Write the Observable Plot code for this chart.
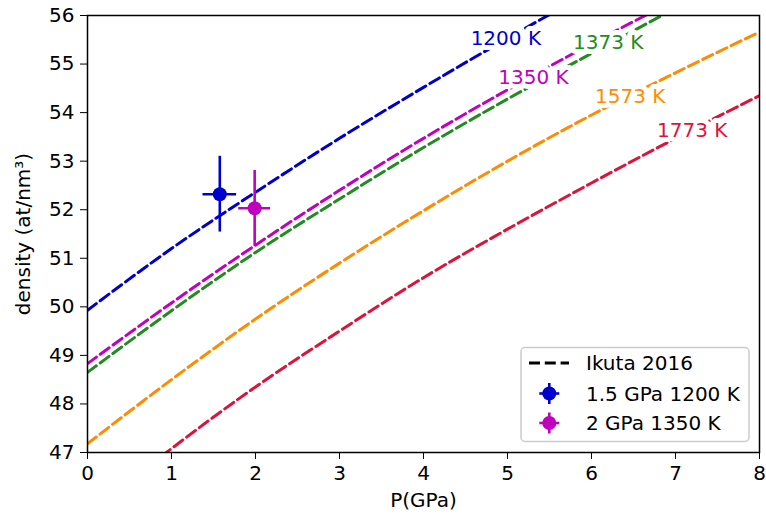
<!DOCTYPE html>
<html><head><meta charset="utf-8">
<script src="https://cdn.jsdelivr.net/npm/d3@7"></script>
<script src="https://cdn.jsdelivr.net/npm/@observablehq/plot@0.6"></script>
<style>
body{margin:0;background:#fff;font-family:"DejaVu Sans",sans-serif}
#chart{position:relative;width:766px;height:520px}
</style>
</head><body><div id="chart"></div>
<script>
// ---- data ----
const pressures = [0, 1, 2, 3, 4, 5, 6, 7, 8];
const temps = ["1200 K", "1350 K", "1373 K", "1573 K", "1773 K"];
const colors = ["#0000cd", "#bf00bf", "#228b22", "#ff8c00", "#dc143c"];
const dens1200 = [49.93, 51.20, 52.36, 53.47, 54.52, 55.53, 56.50, null, null];
const dens1350 = [48.83, 50.08, 51.27, 52.40, 53.47, 54.47, 55.42, 56.32, null];
const dens1373 = [48.65, 49.92, 51.12, 52.22, 53.28, 54.28, 55.22, 56.15, null];
const dens1573 = [47.18, 48.50, 49.75, 50.90, 51.98, 53.00, 53.95, 54.82, 55.66];
const dens1773 = [45.70, 47.08, 48.35, 49.50, 50.60, 51.60, 52.55, 53.47, 54.35];
const labelP = [4.98, 5.31, 6.20, 6.46, 7.20];
const labelD = [55.53, 54.72, 55.44, 54.33, 53.63];

const expNames = ["1.5 GPa 1200 K", "2 GPa 1350 K"];
const expColors = ["#0000cd", "#bf00bf"];
const expP = [1.575, 1.99];
const expD = [52.32, 52.03];
const expPErr = [0.2, 0.19];
const expDErr = [0.78, 0.78];

const xTicks = [0, 1, 2, 3, 4, 5, 6, 7, 8];
const yTicks = [47, 48, 49, 50, 51, 52, 53, 54, 55, 56];

// ---- tables ----
const series = [dens1200, dens1350, dens1373, dens1573, dens1773];
const curves = [];
series.forEach((arr, i) => arr.forEach((d, j) => curves.push({T: temps[i], P: pressures[j], D: d})));
const labels = temps.map((t, i) => ({T: t, P: labelP[i], D: labelD[i]}));
const exps = expNames.map((n, i) => ({name: n, P: expP[i], D: expD[i], pe: expPErr[i], de: expDErr[i]}));

const colorScale = {domain: temps.concat(expNames), range: colors.concat(expColors)};
const FS = 20;

const plot = Plot.plot({
  width: 766, height: 520,
  marginLeft: 87, marginRight: 7, marginTop: 15, marginBottom: 68,
  style: {fontFamily: "DejaVu Sans, sans-serif", fontSize: FS + "px", background: "white", color: "black"},
  x: {domain: [0, 8], ticks: xTicks, label: null},
  y: {domain: [47, 56], ticks: yTicks, label: null},
  color: colorScale,
  marks: [
    Plot.line(curves, {x: "P", y: "D", z: "T", stroke: "T", strokeWidth: 3,
      strokeDasharray: "11,4.8", curve: "monotone-x", clip: true,
      defined: d => d.D != null}),
    Plot.text(labels, {x: "P", y: "D", text: "T", fill: "T", fontSize: FS,
      stroke: "white", strokeWidth: 10, paintOrder: "stroke"}),
    Plot.ruleX(exps, {x: "P", y1: d => d.D - d.de, y2: d => d.D + d.de, stroke: "name", strokeWidth: 2.6}),
    Plot.ruleY(exps, {y: "D", x1: d => d.P - d.pe, x2: d => d.P + d.pe, stroke: "name", strokeWidth: 2.6}),
    Plot.dot(exps, {x: "P", y: "D", fill: "name", r: 7}),
    Plot.axisX({ticks: xTicks, tickSize: 7, tickPadding: 6, fontSize: FS, tickFormat: d => d,
      label: "P(GPa)", labelAnchor: "center", labelArrow: "none", labelOffset: 54}),
    Plot.axisY({ticks: yTicks, tickSize: 7, tickPadding: 6, fontSize: FS, tickFormat: d => d,
      label: "density (at/nm³)", labelAnchor: "center", labelArrow: "none", labelOffset: 72}),
    Plot.frame({stroke: "black", strokeWidth: 1.5})
  ]
});
document.getElementById("chart").appendChild(plot);

// ---- legend (drawn into the same svg) ----
const svg = d3.select(plot);
const lg = svg.append("g").attr("font-family", "DejaVu Sans, sans-serif")
  .attr("font-size", FS).attr("text-anchor", "start");
lg.append("rect").attr("x", 521).attr("y", 347.5).attr("width", 228).attr("height", 94)
  .attr("rx", 4).attr("fill", "white").attr("fill-opacity", 0.8).attr("stroke", "#cccccc").attr("stroke-width", 1.5);
lg.append("line").attr("x1", 529).attr("x2", 569).attr("y1", 363).attr("y2", 363)
  .attr("stroke", "black").attr("stroke-width", 3).attr("stroke-dasharray", "11,4.8");
lg.append("text").attr("x", 586).attr("y", 363).attr("dy", "0.35em").attr("fill", "black").text("Ikuta 2016");
exps.forEach((e, i) => {
  const cy = 393.5 + i * 29.5, cx = 549.3;
  const col = expColors[i];
  lg.append("line").attr("x1", cx).attr("x2", cx).attr("y1", cy - 10.5).attr("y2", cy + 10.5).attr("stroke", col).attr("stroke-width", 2.6);
  lg.append("line").attr("x1", cx - 10).attr("x2", cx + 10).attr("y1", cy).attr("y2", cy).attr("stroke", col).attr("stroke-width", 2.6);
  lg.append("circle").attr("cx", cx).attr("cy", cy).attr("r", 7).attr("fill", col);
  lg.append("text").attr("x", 586).attr("y", cy).attr("dy", "0.35em").attr("fill", "black").text(e.name);
});
</script>
</body></html>
